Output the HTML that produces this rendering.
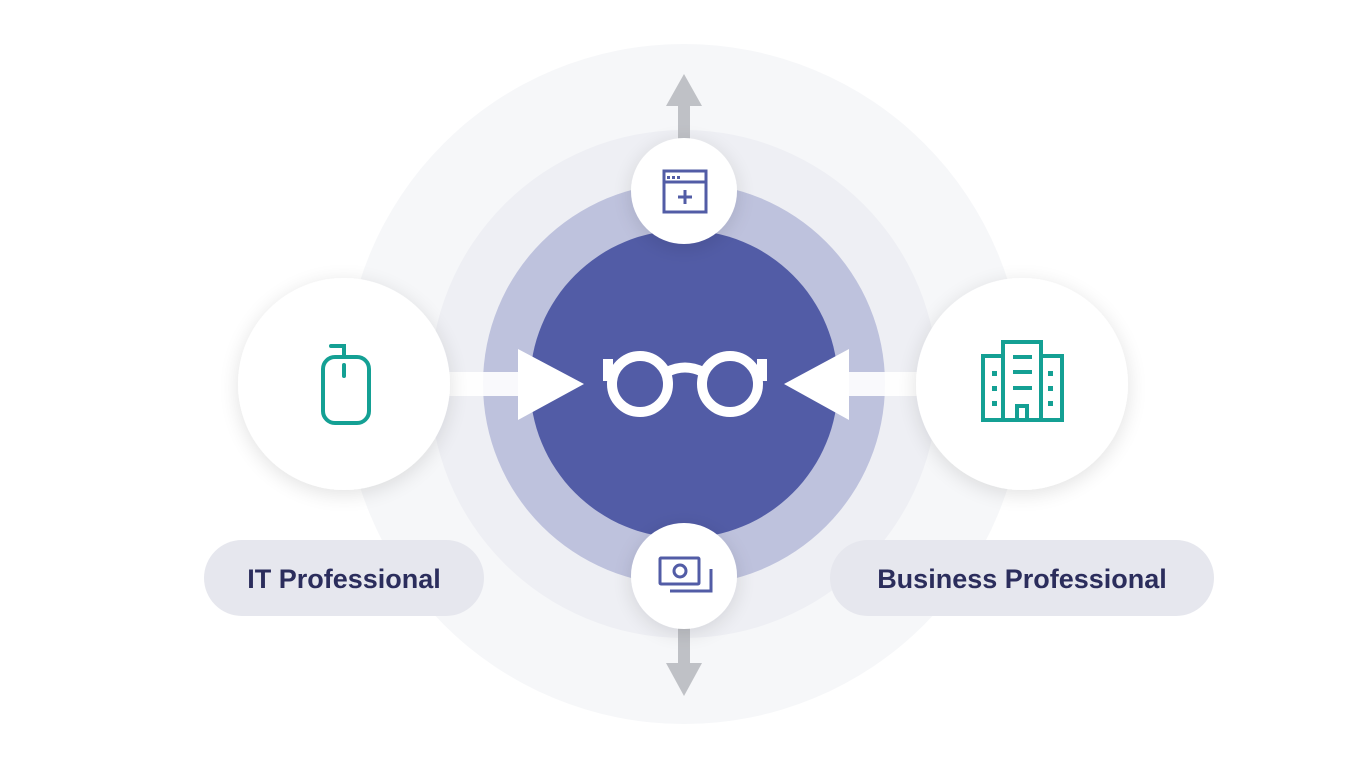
<!DOCTYPE html>
<html><head><style>
html,body{margin:0;padding:0;background:#fff;}
svg{display:block}
</style></head><body>
<svg width="1366" height="768" viewBox="0 0 1366 768" xmlns="http://www.w3.org/2000/svg">
<defs>
<filter id="sh" x="-50%" y="-50%" width="200%" height="200%"><feGaussianBlur in="SourceAlpha" stdDeviation="10"/><feOffset dy="4"/><feComponentTransfer><feFuncA type="linear" slope="0.12"/></feComponentTransfer><feMerge><feMergeNode/><feMergeNode in="SourceGraphic"/></feMerge></filter>
</defs>
<circle cx="684" cy="384" r="340" fill="#f6f7f9"/>
<circle cx="684" cy="384" r="254" fill="#eeeff4"/>
<circle cx="684" cy="384" r="201" fill="#bec2dd"/>
<circle cx="684" cy="384" r="154" fill="#525ca6"/>
<!-- gray arrows -->
<rect x="678" y="104" width="12" height="40" fill="#bfc1c6"/>
<polygon points="684,74 702,106 666,106" fill="#bfc1c6"/>
<rect x="678" y="625" width="12" height="40" fill="#bfc1c6"/>
<polygon points="684,696 702,663 666,663" fill="#bfc1c6"/>
<!-- white arrows -->
<rect x="440" y="372" width="82" height="24" fill="#fff" opacity="0.9"/>
<polygon points="518,349 584,384 518,420" fill="#fff"/>
<rect x="845" y="372" width="85" height="24" fill="#fff" opacity="0.9"/>
<polygon points="849,349 784,384 849,420" fill="#fff"/>
<!-- glasses -->
<g fill="none" stroke="#fff" stroke-width="10">
<circle cx="640" cy="384" r="28"/>
<circle cx="730" cy="384" r="28"/>
<path d="M667,372 Q685,363 703,372"/>
</g>
<rect x="603" y="359" width="10" height="22" fill="#fff"/>
<rect x="757" y="359" width="10" height="22" fill="#fff"/>
<!-- white nodes -->
<g filter="url(#sh)" fill="#fff">
<circle cx="684" cy="191" r="53"/>
<circle cx="684" cy="576" r="53"/>
<circle cx="344" cy="384" r="106"/>
<circle cx="1022" cy="384" r="106"/>
</g>
<!-- top icon -->
<g fill="none" stroke="#525ca6" stroke-width="3">
<rect x="664" y="171" width="42" height="41"/>
<line x1="664" y1="182" x2="706" y2="182"/>
<line x1="685" y1="190" x2="685" y2="204"/>
<line x1="678" y1="197" x2="692" y2="197"/>
</g>
<g fill="#525ca6"><rect x="667" y="176" width="3" height="3"/><rect x="672" y="176" width="3" height="3"/><rect x="677" y="176" width="3" height="3"/></g>
<!-- bottom icon -->
<g fill="none" stroke="#525ca6" stroke-width="3">
<rect x="660" y="558" width="39" height="26" rx="1"/>
<circle cx="680" cy="571" r="6"/>
<path d="M670,591 H711 V569"/>
</g>
<!-- mouse -->
<g fill="none" stroke="#14a094" stroke-width="4" stroke-linecap="round">
<rect x="323" y="357" width="46" height="66" rx="12"/>
<path d="M331,346 H344 V357"/>
<line x1="344" y1="365" x2="344" y2="376"/>
</g>
<!-- building -->
<g fill="none" stroke="#14a094" stroke-width="4">
<rect x="1003" y="342" width="38" height="78"/>
<rect x="983" y="356" width="20" height="64"/>
<rect x="1041" y="356" width="21" height="64"/>
<rect x="1017" y="406" width="10" height="14"/>
<line x1="1013" y1="357" x2="1032" y2="357"/>
<line x1="1013" y1="372" x2="1032" y2="372"/>
<line x1="1013" y1="388" x2="1032" y2="388"/>
</g>
<g fill="#14a094">
<rect x="992" y="371" width="5" height="5"/><rect x="992" y="386" width="5" height="5"/><rect x="992" y="401" width="5" height="5"/>
<rect x="1048" y="371" width="5" height="5"/><rect x="1048" y="386" width="5" height="5"/><rect x="1048" y="401" width="5" height="5"/>
</g>
<!-- labels -->
<rect x="204" y="540" width="280" height="76" rx="38" fill="#e6e7ee"/>
<rect x="830" y="540" width="384" height="76" rx="38" fill="#e6e7ee"/>
<g font-family="Liberation Sans, sans-serif" font-size="27" font-weight="bold" fill="#2b2d5c" text-anchor="middle">
<text x="344" y="588">IT Professional</text>
<text x="1022" y="588">Business Professional</text>
</g>
</svg>
</body></html>
